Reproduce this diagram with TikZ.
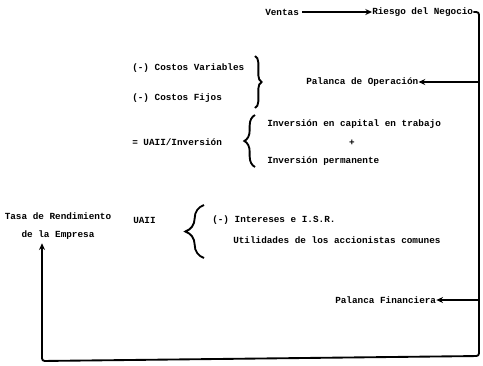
\documentclass[tikz,border=0pt]{standalone}
\usepackage{fontspec}
\setmonofont{Liberation Mono}
\usetikzlibrary{arrows.meta, decorations.pathreplacing}

\begin{document}
\begin{tikzpicture}[
  x=0.75pt, y=-0.75pt,
  txt/.style = {font=\ttfamily\bfseries\fontsize{7}{8}\selectfont, anchor=west, inner sep=0pt},
  ctr/.style = {font=\ttfamily\bfseries\fontsize{7}{8}\selectfont, align=center, inner sep=0pt},
  arr/.style = {line width=1.4pt, -{Stealth[length=5pt, width=4.5pt]}},
  brc/.style = {line width=1.4pt, decorate, decoration={brace, amplitude=#1}}
]
  \useasboundingbox (0,0) rectangle (483,365);

  % top row
  \node[txt] (ventas) at (265,12) {Ventas};
  \node[txt] (riesgo) at (372,12) {Riesgo del Negocio};
  \draw[arr] (ventas.east) ++(3,0) -- (riesgo.west);

  % operating leverage
  \node[txt] (cvar) at (132,68) {(-) Costos Variables};
  \node[txt] (cfij) at (132,98) {(-) Costos Fijos};
  \draw[brc=5pt] (255,56) -- (255,108);
  \node[txt] (palop) at (306,82) {Palanca de Operación};

  % return on investment
  \node[txt] (uainv) at (132,142) {= UAII/Inversión};
  \draw[brc=8pt] (255,167) -- (255,115);
  \node[txt] (invcap) at (267,124) {Inversión en capital en trabajo};
  \node[ctr] (mas) at (352,143) {+};
  \node[txt] (invper) at (267,161) {Inversión permanente};

  % financial leverage
  \node[ctr] (tasa) at (58,226) {Tasa de Rendimiento\\[5pt]de la Empresa};
  \node[txt] (uaii) at (133,220) {UAII};
  \draw[brc=14pt] (204,258) -- (204,205);
  \node[txt] (int) at (212,220) {(-) Intereses e I.S.R.};
  \node[txt] (util) at (233,240) {Utilidades de los accionistas comunes};
  \node[txt] (palfin) at (335,300) {Palanca Financiera};

  % feedback loop
  \coordinate (rtop) at (479,12);
  \coordinate (rbot) at (479,356);
  \coordinate (lbot) at (42,361);
  \draw[arr, shorten >=3pt, rounded corners=2pt] (riesgo.east) -- (rtop) -- (rbot) -- (lbot) -- (tasa.south -| lbot);
  \draw[arr] (rtop |- palop) -- (palop.east);
  \draw[arr] (rtop |- palfin) -- (palfin.east);
\end{tikzpicture}
\end{document}
